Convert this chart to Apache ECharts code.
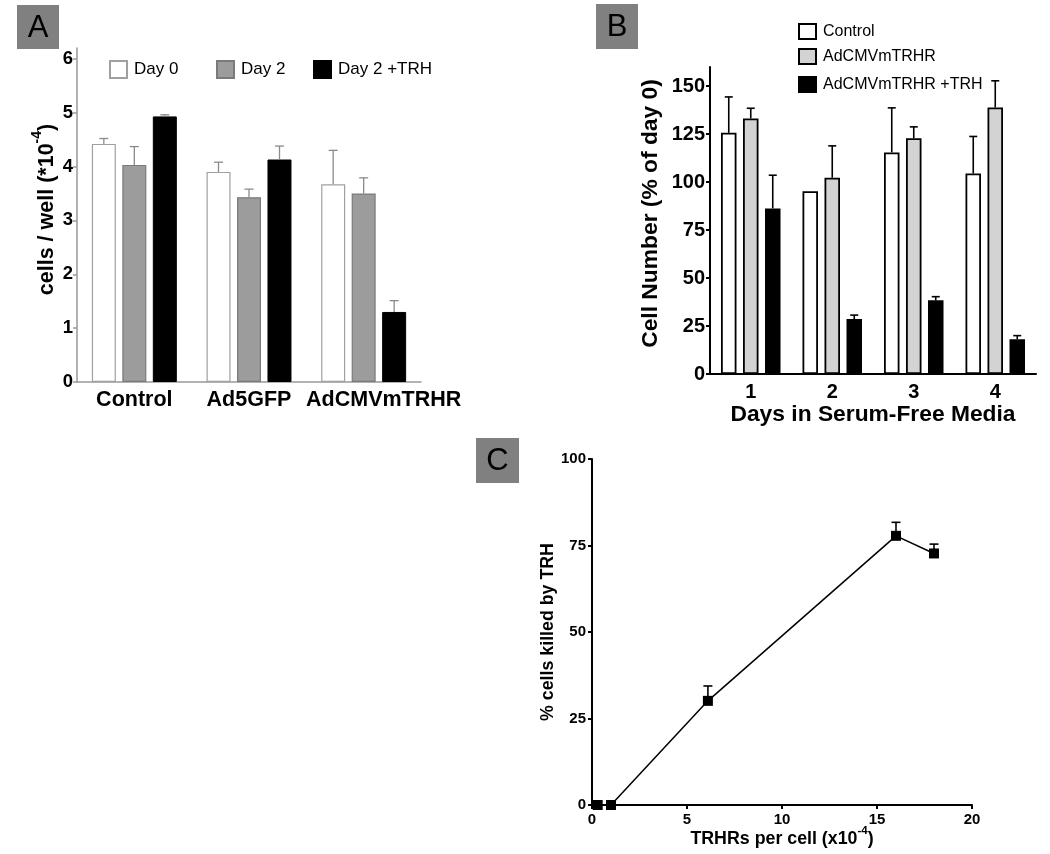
<!DOCTYPE html>
<html><head><meta charset="utf-8">
<script src="https://cdn.jsdelivr.net/npm/echarts@6/dist/echarts.min.js"></script>
<style>html,body{margin:0;padding:0;background:#fff}#c{width:1050px;height:854px}</style>
</head><body><div id="c"></div>
<script>
const FONT = '"Liberation Sans", Arial, Helvetica, sans-serif';
// ---- Panel A data ----
const aCategories = ['Control', 'Ad5GFP', 'AdCMVmTRHR'];
const aSeriesNames = ['Day 0', 'Day 2', 'Day 2 +TRH'];
const aDay0 = [4.42, 3.90, 3.67];
const aDay0Err = [0.10, 0.18, 0.63];
const aDay2 = [4.03, 3.43, 3.50];
const aDay2Err = [0.34, 0.15, 0.29];
const aDay2TRH = [4.93, 4.13, 1.30];
const aDay2TRHErr = [0.03, 0.25, 0.21];
const aYTicks = [0, 1, 2, 3, 4, 5, 6];
// ---- Panel B data ----
const bCategories = ['1', '2', '3', '4'];
const bSeriesNames = ['Control', 'AdCMVmTRHR', 'AdCMVmTRHR +TRH'];
const bControl = [125.7, 95.3, 115.5, 104.5];
const bControlErr = [18.7, 0, 23.2, 19.3];
const bTRHR = [133.2, 102.3, 122.9, 138.9];
const bTRHRErr = [5.3, 16.6, 5.9, 13.9];
const bTRHRplus = [86.3, 28.6, 38.4, 18.1];
const bTRHRplusErr = [17.3, 2.1, 1.9, 1.9];
const bYTicks = [0, 25, 50, 75, 100, 125, 150];
// ---- Panel C data ----
const cX = [0.3, 1.0, 6.1, 16.0, 18.0];
const cY = [0, 0, 30.1, 77.8, 72.7];
const cErr = [0, 0, 4.3, 3.9, 2.7];

function errData(vals, errs) { return vals.map((v, i) => [i, v, v + errs[i]]); }
function errRender(offset, cap, color, width) {
  return function (params, api) {
    const x = api.value(0), m = api.value(1), t = api.value(2);
    if (!(t > m)) return null;
    const p0 = api.coord([x, m]), p1 = api.coord([x, t]);
    const cx = p0[0] + offset;
    return { type: 'group', children: [
      { type: 'line', shape: { x1: cx, y1: p0[1], x2: cx, y2: p1[1] }, style: { stroke: color, lineWidth: width } },
      { type: 'line', shape: { x1: cx - cap / 2, y1: p1[1], x2: cx + cap / 2, y2: p1[1] }, style: { stroke: color, lineWidth: width } }
    ] };
  };
}
function errSeries(xi, yi, vals, errs, offset, cap, color, width) {
  return { type: 'custom', xAxisIndex: xi, yAxisIndex: yi, data: errData(vals, errs),
    encode: { x: 0, y: [1, 2] }, renderItem: errRender(offset, cap, color, width), z: 5, silent: true };
}
function panelLabel(txt, x, y, w, h) {
  return { type: 'group', left: x, top: y, children: [
    { type: 'rect', shape: { x: 0, y: 0, width: w, height: h }, style: { fill: '#808080' } },
    { type: 'text', x: w / 2, y: h / 2 + 1, style: { text: txt, font: '31px ' + FONT, fill: '#000', align: 'center', verticalAlign: 'middle' } }
  ] };
}
function legendAt(name, left, top, iw, ih, fs) {
  return { data: [name], left: left, top: top, padding: 0, icon: 'rect', itemWidth: iw, itemHeight: ih,
    selectedMode: false, textStyle: { fontFamily: FONT, fontSize: fs, color: '#000', padding: [0, 0, 0, 2] } };
}

const aGray = '#999999';
const chart = echarts.init(document.getElementById('c'), null, { renderer: 'canvas' });
const option = {
  backgroundColor: '#fff',
  animation: false,
  textStyle: { fontFamily: FONT },
  graphic: [
    panelLabel('A', 17, 5, 42, 44),
    panelLabel('B', 596, 4, 42, 45),
    panelLabel('C', 476, 438, 43, 45)
  ],
  legend: [
    legendAt('Day 0', 109, 60, 17, 17, 17),
    legendAt('Day 2', 216, 60, 17, 17, 17),
    legendAt('Day 2 +TRH', 313, 60, 17, 17, 17),
    legendAt('Control', 798, 23, 17, 15, 16),
    legendAt('AdCMVmTRHR', 798, 48, 17, 15, 16),
    legendAt('AdCMVmTRHR +TRH', 798, 76, 17, 15, 16)
  ],
  grid: [
    { left: 77, top: 48, width: 344, height: 334 },
    { left: 710, top: 67, width: 326, height: 307 },
    { left: 592, top: 459, width: 380, height: 346 }
  ],
  xAxis: [
    { gridIndex: 0, type: 'category', data: aCategories,
      axisLine: { lineStyle: { color: aGray, width: 1.5 } }, axisTick: { show: false },
      axisLabel: { interval: 0, margin: 7, color: '#000', fontSize: 21.5, fontWeight: 'bold', fontFamily: FONT,
        formatter: (v, i) => (i === 2 ? '{r|' + v + '}' : v),
        rich: { r: { fontSize: 21.5, fontWeight: 'bold', fontFamily: FONT, padding: [0, 0, 0, 40] } } } },
    { gridIndex: 1, type: 'category', data: bCategories,
      name: 'Days in Serum-Free Media', nameLocation: 'middle', nameGap: 27,
      nameTextStyle: { fontSize: 22.8, fontWeight: 'bold', color: '#000', fontFamily: FONT },
      axisLine: { lineStyle: { color: '#000', width: 2 } },
      axisTick: { alignWithLabel: true, length: 5, lineStyle: { color: '#000', width: 2 } },
      axisLabel: { margin: 8, color: '#000', fontSize: 20, fontWeight: 'bold', fontFamily: FONT } },
    { gridIndex: 2, type: 'value', min: 0, max: 20, interval: 5,
      name: '{b|TRHRs per cell (x10}{s|-4}{b|)}', nameLocation: 'middle', nameGap: 20, nameMoveOverlap: false,
      nameTextStyle: { rich: {
        b: { fontSize: 17.8, fontWeight: 'bold', color: '#000', fontFamily: FONT, lineHeight: 23, verticalAlign: 'bottom' },
        s: { fontSize: 11.5, fontWeight: 'bold', color: '#000', fontFamily: FONT, lineHeight: 23, verticalAlign: 'top' } } },
      splitLine: { show: false },
      axisLine: { lineStyle: { color: '#000', width: 2 } },
      axisTick: { length: 4, lineStyle: { color: '#000', width: 2 } },
      axisLabel: { margin: 7, color: '#000', fontSize: 15, fontWeight: 'bold', fontFamily: FONT } }
  ],
  yAxis: [
    { gridIndex: 0, type: 'value', min: 0, max: 6.2,
      name: '{b|cells / well (*10}{s|-4}{b|)}', nameLocation: 'middle', nameGap: 19,
      nameTextStyle: { padding: [0, 0, 0, 11], rich: {
        b: { fontSize: 21.5, fontWeight: 'bold', color: '#000', fontFamily: FONT, lineHeight: 28, verticalAlign: 'bottom' },
        s: { fontSize: 14, fontWeight: 'bold', color: '#000', fontFamily: FONT, lineHeight: 28, verticalAlign: 'top' } } },
      splitLine: { show: false },
      axisLine: { show: true, lineStyle: { color: aGray, width: 1.5 } },
      axisTick: { show: true, length: 4, customValues: aYTicks, lineStyle: { color: aGray, width: 1.5 } },
      axisLabel: { margin: 4, customValues: aYTicks, color: '#000', fontSize: 18.5, fontWeight: 'bold', fontFamily: FONT } },
    { gridIndex: 1, type: 'value', min: 0, max: 160,
      name: 'Cell Number (% of day 0)', nameLocation: 'middle', nameGap: 48,
      nameTextStyle: { fontSize: 22.8, fontWeight: 'bold', color: '#000', fontFamily: FONT, padding: [0, 0, 0, 14] },
      splitLine: { show: false },
      axisLine: { show: true, lineStyle: { color: '#000', width: 2 } },
      axisTick: { show: true, length: 4, customValues: bYTicks, lineStyle: { color: '#000', width: 2 } },
      axisLabel: { margin: 5, customValues: bYTicks, color: '#000', fontSize: 20, fontWeight: 'bold', fontFamily: FONT } },
    { gridIndex: 2, type: 'value', min: 0, max: 100, interval: 25,
      name: '% cells killed by TRH', nameLocation: 'middle', nameGap: 34,
      nameTextStyle: { fontSize: 17.8, fontWeight: 'bold', color: '#000', fontFamily: FONT },
      splitLine: { show: false },
      axisLine: { show: true, lineStyle: { color: '#000', width: 2 } },
      axisTick: { show: true, length: 4, lineStyle: { color: '#000', width: 2 } },
      axisLabel: { margin: 6, color: '#000', fontSize: 15, fontWeight: 'bold', fontFamily: FONT } }
  ],
  series: [
    // Panel A bars
    { name: aSeriesNames[0], type: 'bar', xAxisIndex: 0, yAxisIndex: 0, data: aDay0, barWidth: 24, barGap: '27%',
      itemStyle: { color: '#ffffff', borderColor: '#a0a0a0', borderWidth: 1.2 } },
    { name: aSeriesNames[1], type: 'bar', xAxisIndex: 0, yAxisIndex: 0, data: aDay2, barWidth: 24, barGap: '27%',
      itemStyle: { color: '#9c9c9c', borderColor: '#7a7a7a', borderWidth: 1.2 } },
    { name: aSeriesNames[2], type: 'bar', xAxisIndex: 0, yAxisIndex: 0, data: aDay2TRH, barWidth: 24, barGap: '27%',
      itemStyle: { color: '#000000', borderColor: '#000', borderWidth: 1 } },
    errSeries(0, 0, aDay0, aDay0Err, -30.5, 9, '#8a8a8a', 1.3),
    errSeries(0, 0, aDay2, aDay2Err, 0, 9, '#8a8a8a', 1.3),
    errSeries(0, 0, aDay2TRH, aDay2TRHErr, 30.5, 9, '#8a8a8a', 1.3),
    // Panel B bars
    { name: bSeriesNames[0], type: 'bar', xAxisIndex: 1, yAxisIndex: 1, data: bControl, barWidth: 15.5, barGap: '42%',
      itemStyle: { color: '#ffffff', borderColor: '#000', borderWidth: 1.8 } },
    { name: bSeriesNames[1], type: 'bar', xAxisIndex: 1, yAxisIndex: 1, data: bTRHR, barWidth: 15.5, barGap: '42%',
      itemStyle: { color: '#d3d3d3', borderColor: '#000', borderWidth: 1.8 } },
    { name: bSeriesNames[2], type: 'bar', xAxisIndex: 1, yAxisIndex: 1, data: bTRHRplus, barWidth: 15.5, barGap: '42%',
      itemStyle: { color: '#000000', borderColor: '#000', borderWidth: 1.8 } },
    errSeries(1, 1, bControl, bControlErr, -22, 8, '#000', 1.6),
    errSeries(1, 1, bTRHR, bTRHRErr, 0, 8, '#000', 1.6),
    errSeries(1, 1, bTRHRplus, bTRHRplusErr, 22, 8, '#000', 1.6),
    // Panel C line
    { type: 'line', xAxisIndex: 2, yAxisIndex: 2, data: cX.map((x, i) => [x, cY[i]]),
      symbol: 'rect', symbolSize: 10, showAllSymbol: true,
      lineStyle: { color: '#000', width: 1.5 }, itemStyle: { color: '#000' }, z: 6 },
    { type: 'custom', xAxisIndex: 2, yAxisIndex: 2, data: cX.map((x, i) => [x, cY[i], cY[i] + cErr[i]]),
      encode: { x: 0, y: [1, 2] }, renderItem: errRender(0, 9, '#000', 1.6), z: 5, silent: true }
  ]
};
chart.setOption(option);
</script>
</body></html>
